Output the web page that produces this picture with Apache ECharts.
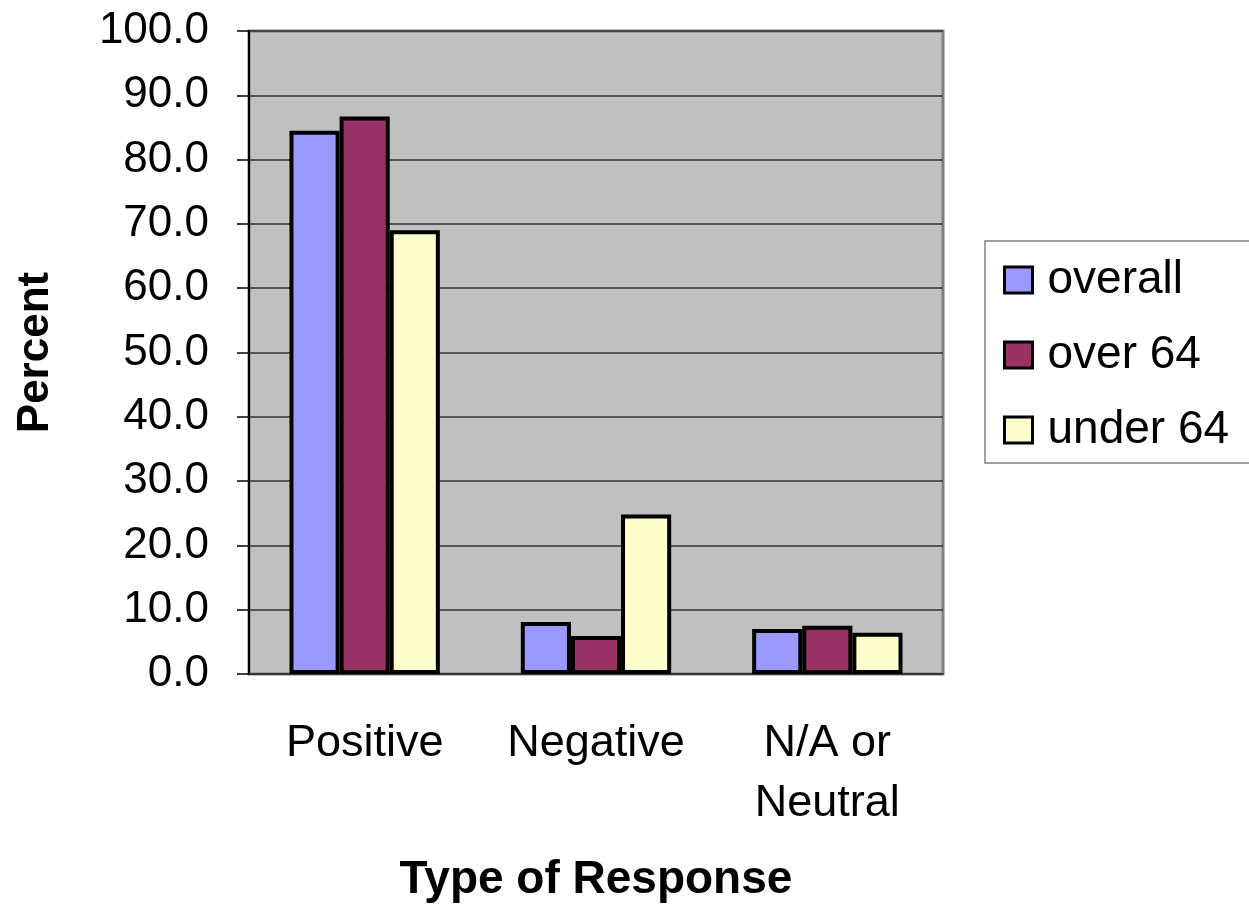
<!DOCTYPE html>
<html>
<head>
<meta charset="utf-8">
<script src="https://cdn.jsdelivr.net/npm/echarts@6/dist/echarts.min.js"></script>
<style>
html, body { margin: 0; padding: 0; background: #fff; }
#chart { width: 1249px; height: 908px; }
</style>
</head>
<body>
<div id="chart"></div>
<script>
var categories = ['Positive', 'Negative', 'N/A or\nNeutral'];
var seriesNames = ['overall', 'over 64', 'under 64'];
var overall = [84.5, 8.1, 7.0];
var over64 = [86.7, 5.9, 7.5];
var under64 = [69.0, 24.8, 6.4];
var colors = ['#9999FF', '#993366', '#FFFFCC'];

var font = "'Liberation Sans', Arial, sans-serif";

function barSeries(name, data, color) {
	return {
		name: name,
		type: 'bar',
		data: data,
		barGap: '0%',
		barCategoryGap: '35%',
		itemStyle: {
			color: color,
			borderColor: '#000',
			borderWidth: 4
		}
	};
}

var option = {
	animation: false,
	textStyle: { fontFamily: font },
	grid: {
		left: 249,
		right: 306,
		top: 31,
		bottom: 233,
		show: true,
		backgroundColor: '#C0C0C0',
		borderColor: '#808080',
		borderWidth: 3
	},
	legend: {
		orient: 'vertical',
		left: 985,
		top: 241,
		padding: [16, 40, 10, 18],
		itemGap: 29,
		itemWidth: 28,
		itemHeight: 26,
		icon: 'rect',
		borderColor: '#808080',
		borderWidth: 1.5,
		data: seriesNames,
		itemStyle: { borderWidth: 3 },
		textStyle: {
			fontFamily: font,
			fontSize: 46,
			lineHeight: 46,
			color: '#000',
			padding: [0, 0, 0, 10]
		}
	},
	xAxis: {
		type: 'category',
		data: categories,
		name: 'Type of Response',
		nameLocation: 'middle',
		nameGap: 183,
		nameTextStyle: {
			fontFamily: font,
			fontSize: 46,
			fontWeight: 'bold',
			color: '#000'
		},
		axisLine: { lineStyle: { color: '#333', width: 1.5 } },
		axisTick: { length: 12, lineStyle: { color: '#333', width: 1.5 } },
		axisLabel: {
			margin: 40,
			fontFamily: font,
			fontSize: 45,
			lineHeight: 60,
			color: '#000'
		}
	},
	yAxis: {
		type: 'value',
		min: 0,
		max: 100,
		interval: 10,
		name: 'Percent',
		nameLocation: 'middle',
		nameGap: 191,
		nameTextStyle: {
			fontFamily: font,
			fontSize: 44,
			fontWeight: 'bold',
			color: '#000'
		},
		axisLine: { show: true, lineStyle: { color: '#000', width: 2 } },
		axisTick: { show: true, length: 12, lineStyle: { color: '#000', width: 1.5 } },
		axisLabel: {
			margin: 40,
			fontFamily: font,
			fontSize: 44,
			color: '#000',
			formatter: function(v) { return v.toFixed(1); }
		},
		splitLine: { show: true, lineStyle: { color: '#333', width: 1.5 } }
	},
	series: [
		barSeries(seriesNames[0], overall, colors[0]),
		barSeries(seriesNames[1], over64, colors[1]),
		barSeries(seriesNames[2], under64, colors[2])
	]
};

var chart = echarts.init(document.getElementById('chart'));
chart.setOption(option);
</script>
</body>
</html>
